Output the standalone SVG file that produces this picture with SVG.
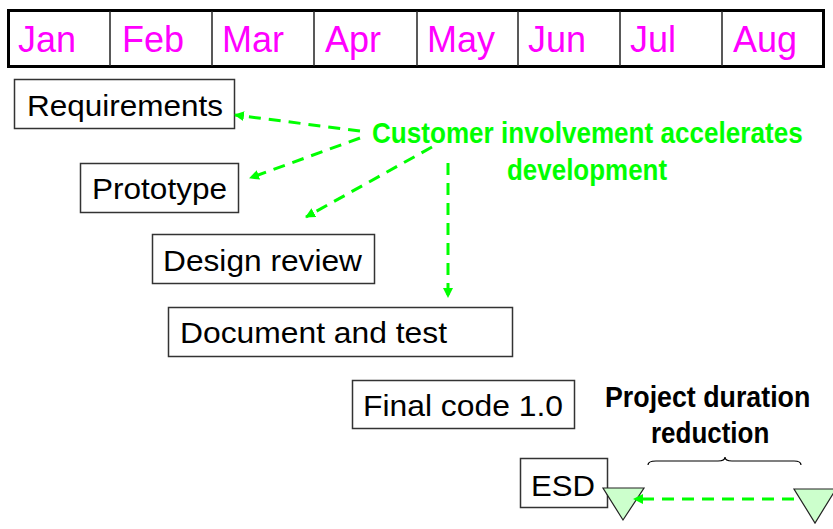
<svg xmlns="http://www.w3.org/2000/svg" width="833" height="529" viewBox="0 0 833 529">
<style>
.month{font-family:"Liberation Sans",Arial,sans-serif;font-size:36px;fill:#FF00FF}
.box{fill:#fff;stroke:#333;stroke-width:1.5}
.lbl{font-family:"Liberation Sans",Arial,sans-serif;font-size:30px;fill:#000}
.note{font-family:"Liberation Sans",Arial,sans-serif;font-weight:bold;font-size:30px}
.conn{fill:none;stroke:#00FF00;stroke-width:3;stroke-dasharray:12 8}
.tri{fill:#CCFFCC;stroke:#222;stroke-width:1.2}
</style>
<defs>
<marker id="ah" markerWidth="10" markerHeight="10" refX="9" refY="5" orient="auto" markerUnits="userSpaceOnUse">
<path d="M0,0 L10,5 L0,10 z" fill="#00FF00"/>
</marker>
</defs>
<rect width="833" height="529" fill="#fff"/>
<g id="timeline">
<rect x="8.5" y="10.5" width="815" height="56" fill="#fff" stroke="#000" stroke-width="3"/>
<g stroke="#222" stroke-width="1.5">
<line x1="110" y1="11" x2="110" y2="66"/>
<line x1="212" y1="11" x2="212" y2="66"/>
<line x1="314" y1="11" x2="314" y2="66"/>
<line x1="417" y1="11" x2="417" y2="66"/>
<line x1="518" y1="11" x2="518" y2="66"/>
<line x1="620" y1="11" x2="620" y2="66"/>
<line x1="722" y1="11" x2="722" y2="66"/>
</g>
<text class="month" x="18" y="52">Jan</text>
<text class="month" x="122" y="52">Feb</text>
<text class="month" x="222" y="52">Mar</text>
<text class="month" x="325" y="52">Apr</text>
<text class="month" x="427" y="52">May</text>
<text class="month" x="528" y="52">Jun</text>
<text class="month" x="630" y="52">Jul</text>
<text class="month" x="733" y="52">Aug</text>
</g>
<g id="requirements">
<rect class="box" x="14.5" y="79.5" width="220" height="49"/>
<text class="lbl" x="27" y="116" textLength="196" lengthAdjust="spacingAndGlyphs">Requirements</text>
</g>
<g id="prototype">
<rect class="box" x="80.5" y="163.5" width="158" height="49"/>
<text class="lbl" x="92" y="199" textLength="135" lengthAdjust="spacingAndGlyphs">Prototype</text>
</g>
<g id="design-review">
<rect class="box" x="152.5" y="234.5" width="222" height="49"/>
<text class="lbl" x="163" y="271" textLength="199" lengthAdjust="spacingAndGlyphs">Design review</text>
</g>
<g id="document-test">
<rect class="box" x="168.5" y="307.5" width="344" height="49"/>
<text class="lbl" x="180" y="343" textLength="267" lengthAdjust="spacingAndGlyphs">Document and test</text>
</g>
<g id="final-code">
<rect class="box" x="352.5" y="380.5" width="222" height="48"/>
<text class="lbl" x="363" y="416" textLength="200" lengthAdjust="spacingAndGlyphs">Final code 1.0</text>
</g>
<g id="esd">
<rect class="box" x="520.5" y="458.5" width="87" height="49"/>
<text class="lbl" x="531" y="496" textLength="64" lengthAdjust="spacingAndGlyphs">ESD</text>
</g>
<g id="customer-note">
<text class="note" fill="#00FF00" transform="translate(372,143) scale(0.87,1)" textLength="495" lengthAdjust="spacingAndGlyphs">Customer involvement accelerates</text>
<text class="note" fill="#00FF00" transform="translate(507,180) scale(0.87,1)" textLength="184" lengthAdjust="spacingAndGlyphs">development</text>
</g>
<g id="duration-note">
<text class="note" fill="#000" transform="translate(605,407) scale(0.87,1)" textLength="236" lengthAdjust="spacingAndGlyphs">Project duration</text>
<text class="note" fill="#000" transform="translate(651,443) scale(0.87,1)" textLength="136" lengthAdjust="spacingAndGlyphs">reduction</text>
<path d="M648,465 Q648,461 656,461 L718,461 Q725,461 725,457 Q725,461 732,461 L794,461 Q801,461 801,465" fill="none" stroke="#000" stroke-width="1.2"/>
</g>
<g id="milestones">
<polygon class="tri" points="603,488 644,488 623,520"/>
<polygon class="tri" points="794,489 836,489 815,523"/>
</g>
<g id="connectors">
<line class="conn" x1="360" y1="131" x2="235" y2="115" marker-end="url(#ah)"/>
<line class="conn" x1="360" y1="138" x2="250" y2="178" marker-end="url(#ah)"/>
<line class="conn" x1="432" y1="147" x2="306" y2="217" marker-end="url(#ah)"/>
<line class="conn" x1="448" y1="163" x2="448" y2="297" marker-end="url(#ah)"/>
<line class="conn" x1="794" y1="499" x2="634" y2="499" marker-end="url(#ah)"/>
</g>
</svg>
